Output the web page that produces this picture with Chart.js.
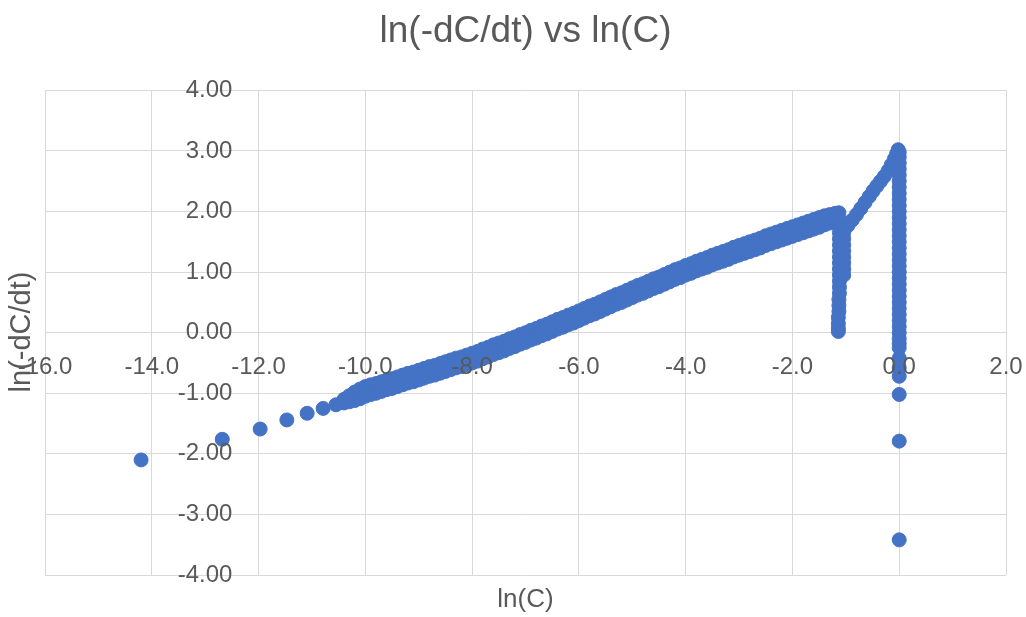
<!DOCTYPE html>
<html>
<head>
<meta charset="utf-8">
<script src="https://cdn.jsdelivr.net/npm/chart.js@4.4.0/dist/chart.umd.min.js"></script>
<style>
  html, body { margin: 0; padding: 0; background: #fff; }
  canvas { display: block; }
</style>
</head>
<body>
<canvas id="chart" width="1026" height="617"></canvas>
<script>
// valores: ln(C) e ln(-dC/dt)
const tailX = [-14.2, -12.68, -11.97, -11.47, -11.09, -10.79, -10.55];
const tailY = [-2.10, -1.76, -1.59, -1.44, -1.33, -1.25, -1.19];

// faixa principal (duas fileiras de pontos sobrepostas)
const mainX = [-10.4, -10.3, -10.2, -10.1, -10.0, -9.9, -9.8, -9.7, -9.6, -9.5, -9.4, -9.3, -9.2, -9.1, -9.0,
  -8.9, -8.8, -8.7, -8.6, -8.5, -8.4, -8.3, -8.2, -8.1, -8.0, -7.9, -7.8, -7.7, -7.6, -7.5, -7.4, -7.3, -7.2, -7.1, -7.0,
  -6.9, -6.8, -6.7, -6.6, -6.5, -6.4, -6.3, -6.2, -6.1, -6.0, -5.9, -5.8, -5.7, -5.6, -5.5, -5.4, -5.3, -5.2, -5.1, -5.0,
  -4.9, -4.8, -4.7, -4.6, -4.5, -4.4, -4.3, -4.2, -4.1, -4.0, -3.9, -3.8, -3.7, -3.6, -3.5, -3.4, -3.3, -3.2, -3.1, -3.0,
  -2.9, -2.8, -2.7, -2.6, -2.5, -2.4, -2.3, -2.2, -2.1, -2.0, -1.9, -1.8, -1.7, -1.6, -1.5, -1.4, -1.3, -1.2, -1.13];
const mainUpperY = [-1.10, -1.04, -0.98, -0.93, -0.89, -0.86, -0.84, -0.81, -0.78, -0.76, -0.73, -0.70, -0.67, -0.65, -0.62,
  -0.59, -0.56, -0.54, -0.51, -0.48, -0.45, -0.42, -0.40, -0.37, -0.34, -0.31, -0.27, -0.24, -0.20, -0.17, -0.14, -0.10, -0.07, -0.03, 0.00,
  0.04, 0.07, 0.11, 0.14, 0.18, 0.22, 0.25, 0.29, 0.32, 0.36, 0.40, 0.44, 0.47, 0.51, 0.55, 0.59, 0.63, 0.66, 0.70, 0.74,
  0.78, 0.81, 0.85, 0.89, 0.92, 0.96, 1.00, 1.04, 1.07, 1.11, 1.14, 1.18, 1.21, 1.24, 1.28, 1.31, 1.34, 1.37, 1.41, 1.44,
  1.47, 1.50, 1.53, 1.56, 1.60, 1.63, 1.66, 1.69, 1.72, 1.75, 1.78, 1.81, 1.84, 1.87, 1.90, 1.93, 1.95, 1.97, 1.98];
const mainLowerY = [-1.16, -1.14, -1.12, -1.09, -1.05, -1.02, -1.00, -0.97, -0.94, -0.92, -0.89, -0.86, -0.83, -0.81, -0.78,
  -0.75, -0.72, -0.70, -0.67, -0.64, -0.61, -0.58, -0.56, -0.53, -0.50, -0.47, -0.43, -0.40, -0.36, -0.33, -0.30, -0.26, -0.23, -0.19, -0.16,
  -0.12, -0.09, -0.05, -0.02, 0.02, 0.06, 0.09, 0.13, 0.16, 0.20, 0.24, 0.28, 0.31, 0.35, 0.39, 0.43, 0.47, 0.50, 0.54, 0.58,
  0.62, 0.65, 0.69, 0.73, 0.76, 0.80, 0.84, 0.88, 0.91, 0.95, 0.98, 1.02, 1.05, 1.08, 1.12, 1.15, 1.18, 1.21, 1.25, 1.28,
  1.31, 1.34, 1.37, 1.40, 1.44, 1.47, 1.50, 1.53, 1.56, 1.59, 1.62, 1.65, 1.68, 1.71, 1.74, 1.78, 1.81, 1.84, 1.88];

// queda vertical em ln(C) ~ -1.1
const dropAX = [-1.12, -1.12, -1.12, -1.12, -1.12, -1.12, -1.12, -1.12, -1.12, -1.12,
  -1.12, -1.12, -1.12, -1.13, -1.13, -1.13, -1.14, -1.14, -1.14, -1.14];
const dropAY = [1.85, 1.75, 1.65, 1.55, 1.45, 1.35, 1.25, 1.15, 1.05, 0.95,
  0.85, 0.75, 0.65, 0.55, 0.45, 0.35, 0.25, 0.15, 0.07, 0.02];
const dropBX = [-1.04, -1.04, -1.04, -1.04, -1.04, -1.04, -1.04, -1.04];
const dropBY = [1.65, 1.55, 1.45, 1.35, 1.25, 1.15, 1.05, 0.95];

// ramo que sobe até ln(C) = 0
const riseX = [-1.04, -0.96, -0.88, -0.80, -0.72, -0.64, -0.56, -0.49, -0.42, -0.35, -0.28, -0.21, -0.15, -0.09, -0.05, -0.02];
const riseY = [1.68, 1.77, 1.86, 1.95, 2.05, 2.15, 2.25, 2.34, 2.42, 2.50, 2.58, 2.67, 2.77, 2.87, 2.95, 3.02];

// coluna em ln(C) = 0
const zeroX = [0.0, 0.0, 0.0, 0.0, 0.0, 0.0, 0.0, 0.0, 0.0, 0.0, 0.0, 0.0, 0.0, 0.0, 0.0, 0.0, 0.0, 0.0, 0.0, 0.0,
  0.0, 0.0, 0.0, 0.0, 0.0, 0.0, 0.0, 0.0, 0.0, 0.0, 0.0, 0.0, 0.0, 0.0, 0.0, 0.0, 0.0, 0.0, 0.0, 0.0];
const zeroY = [2.98, 2.90, 2.80, 2.70, 2.60, 2.50, 2.40, 2.30, 2.20, 2.10, 2.00, 1.90, 1.80, 1.70, 1.60, 1.50, 1.40, 1.30, 1.20, 1.10,
  1.00, 0.90, 0.80, 0.70, 0.60, 0.50, 0.40, 0.30, 0.20, 0.10, 0.00, -0.10, -0.18, -0.25, -0.42, -0.58, -0.72, -1.02, -1.79, -3.42];

const xTicks = [-16, -14, -12, -10, -8, -6, -4, -2, 0, 2];
const yTicks = [-4, -3, -2, -1, 0, 1, 2, 3, 4];

const toPoints = (xs, ys) => xs.map((x, i) => ({ x, y: ys[i] }));
const points = [].concat(
  toPoints(tailX, tailY),
  toPoints(mainX, mainUpperY),
  toPoints(mainX, mainLowerY),
  toPoints(dropAX, dropAY),
  toPoints(dropBX, dropBY),
  toPoints(riseX, riseY),
  toPoints(zeroX, zeroY)
);

const textColor = '#595959';
const gridColor = '#d9d9d9';
const fontFamily = '"Liberation Sans", Arial, sans-serif';

// títulos dos eixos desenhados na borda, como no Excel
const axisTitles = {
  id: 'axisTitles',
  afterDraw(chart) {
    const ctx = chart.ctx;
    const area = chart.chartArea;
    ctx.save();
    ctx.fillStyle = textColor;
    ctx.textAlign = 'center';
    ctx.textBaseline = 'middle';
    ctx.font = '26px ' + fontFamily;
    ctx.fillText('ln(C)', (area.left + area.right) / 2, 600);
    ctx.translate(22, 332);
    ctx.rotate(-Math.PI / 2);
    ctx.font = '29px ' + fontFamily;
    ctx.fillText('ln(-dC/dt)', 0, 0);
    ctx.restore();
  }
};

new Chart(document.getElementById('chart'), {
  type: 'scatter',
  data: {
    datasets: [{
      label: 'ln(-dC/dt)',
      data: points,
      backgroundColor: '#4472C4',
      borderColor: '#4472C4',
      borderWidth: 1,
      pointRadius: 7,
      pointHoverRadius: 7
    }]
  },
  options: {
    responsive: false,
    animation: false,
    layout: { padding: { left: 45, right: 20, top: 0, bottom: 42 } },
    plugins: {
      legend: { display: false },
      tooltip: { enabled: false },
      title: {
        display: true,
        text: 'ln(-dC/dt) vs ln(C)',
        color: textColor,
        font: { family: fontFamily, size: 37, weight: 'normal' },
        padding: { top: 10, bottom: 36 }
      }
    },
    scales: {
      x: {
        type: 'linear',
        min: -16,
        max: 2,
        position: { y: 0 },
        afterFit: s => { s.height = 0; s.paddingLeft = 0; s.paddingRight = 0; },
        afterBuildTicks: s => { s.ticks = xTicks.map(v => ({ value: v })); },
        grid: { color: gridColor, lineWidth: 1, drawTicks: false, z: -1 },
        border: { color: gridColor, width: 1 },
        ticks: {
          color: textColor,
          font: { family: fontFamily, size: 24 },
          padding: 20,
          maxRotation: 0,
          z: 1,
          callback: v => Number(v).toFixed(1)
        }
      },
      y: {
        type: 'linear',
        min: -4,
        max: 4,
        // rótulos ficam à esquerda do eixo em x = -12 (o traço do eixo é a própria grade)
        position: { x: -12.49 },
        afterFit: s => { s.width = 0; s.paddingTop = 0; s.paddingBottom = 0; },
        afterBuildTicks: s => { s.ticks = yTicks.map(v => ({ value: v })); },
        grid: { color: gridColor, lineWidth: 1, drawTicks: false, z: -1 },
        border: { display: false },
        ticks: {
          color: textColor,
          font: { family: fontFamily, size: 24 },
          padding: 0,
          z: 1,
          callback: v => Number(v).toFixed(2)
        }
      }
    }
  },
  plugins: [axisTitles]
});
</script>
</body>
</html>
